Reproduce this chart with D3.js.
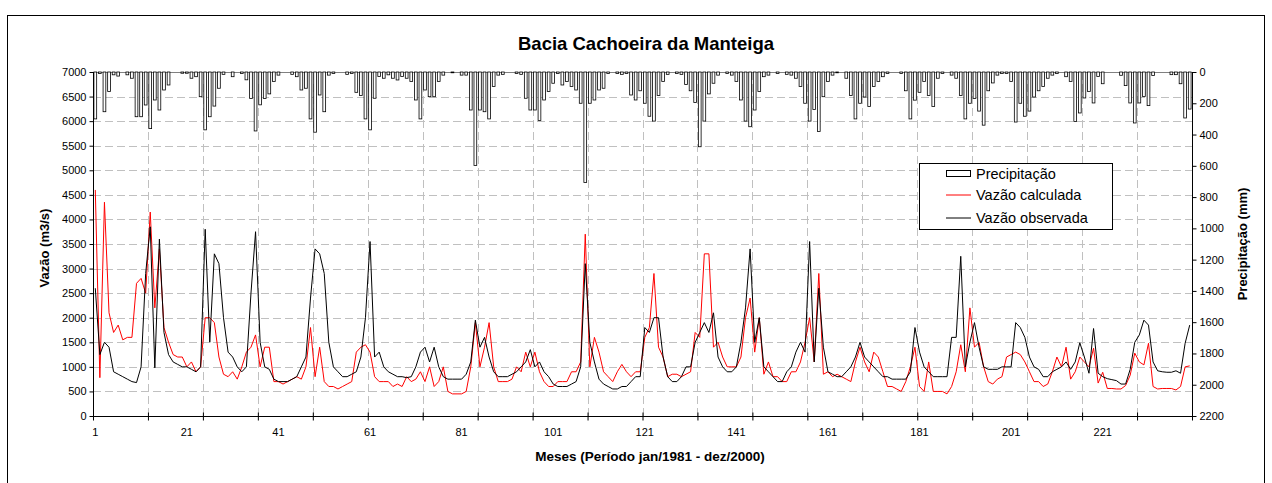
<!DOCTYPE html>
<html>
<head>
<meta charset="utf-8">
<script src="https://cdn.jsdelivr.net/npm/d3@7/dist/d3.min.js"></script>
<style>
  html, body { margin: 0; padding: 0; background: #fff; }
  svg { display: block; font-family: "Liberation Sans", Arial, sans-serif; }
</style>
</head>
<body>
<svg id="chart" width="1272" height="483"></svg>
<script>
// ---- Data (months 1..240, jan/1981 - dez/2000) ----
const months = d3.range(1, 241);

// Precipitation (mm), per year Jan..Dec
const precipitacao = [
  300, 10, 254, 125, 18, 26, 0, 18, 40, 286, 286, 211,
  362, 179, 243, 115, 83, 0, 0, 8, 8, 40, 30, 158,
  370, 286, 218, 104, 15, 0, 30, 0, 10, 50, 170, 377,
  210, 170, 140, 60, 20, 0, 0, 15, 30, 115, 104, 300,
  385, 147, 254, 20, 10, 0, 0, 15, 10, 130, 150, 300,
  370, 168, 29, 40, 18, 40, 51, 29, 40, 60, 179, 300,
  115, 158, 158, 60, 20, 0, 5, 0, 20, 20, 243, 598,
  243, 254, 300, 93, 20, 15, 0, 0, 10, 15, 168, 243,
  243, 310, 179, 125, 72, 10, 83, 61, 93, 115, 200, 707,
  200, 179, 115, 104, 10, 0, 10, 15, 10, 147, 179, 120,
  200, 283, 314, 150, 60, 15, 0, 10, 15, 80, 120, 195,
  478, 314, 140, 72, 20, 0, 10, 20, 60, 179, 314, 350,
  243, 125, 30, 20, 0, 10, 0, 15, 20, 40, 93, 200,
  314, 240, 380, 158, 60, 20, 5, 0, 40, 150, 300, 200,
  160, 220, 93, 60, 30, 10, 0, 0, 10, 120, 300, 180,
  130, 60, 150, 220, 40, 10, 0, 20, 40, 150, 300, 200,
  170, 250, 340, 120, 70, 20, 10, 10, 60, 320, 200, 283,
  250, 160, 120, 93, 40, 20, 10, 0, 30, 60, 316, 262,
  166, 124, 198, 28, 75, 0, 0, 0, 21, 87, 198, 326,
  198, 156, 215, 23, 0, 0, 0, 17, 17, 75, 294, 237
];

// Observed flow (m3/s)
const vazaoObservada = [
  2600, 1250, 1500, 1400, 900, 850, 800, 750, 700, 680, 1000, 2900,
  3850, 980, 3600, 1700, 1250, 1100, 1050, 1000, 1000, 950, 900, 1000,
  3800, 1500, 3300, 3100, 2000, 1300, 1200, 1000, 900, 1000, 2500, 3750,
  1500, 1000, 950, 750, 700, 700, 700, 750, 800, 1000, 1200, 2400,
  3400, 3300, 2900, 1500, 1000, 900, 800, 800, 850, 900, 1200, 2000,
  3550, 1200, 1300, 1000, 900, 850, 800, 800, 780, 800, 1000, 1300,
  1400, 1100, 1400, 1000, 800, 750, 750, 750, 750, 850, 1100, 1950,
  1400, 1600, 1200, 900, 800, 800, 800, 850, 900, 1000, 1100, 1350,
  1000, 1100, 900, 800, 650, 600, 600, 600, 650, 700, 1000, 3100,
  1500, 1100, 750, 650, 600, 550, 550, 600, 600, 700, 800, 800,
  1800, 1700, 2000, 2000, 1200, 800, 700, 700, 800, 1000, 1000, 1500,
  1700, 1900, 1700, 2100, 1200, 1000, 900, 900, 1000, 1500, 2200, 3400,
  1500, 2000, 1000, 900, 800, 700, 700, 900, 1000, 1300, 1500, 1300,
  3550, 1100, 2600, 1400, 900, 850, 800, 800, 900, 1000, 1200, 1500,
  1200, 1100, 1000, 900, 800, 800, 750, 750, 750, 750, 900, 1800,
  1300, 1000, 900, 800, 800, 800, 800, 1600, 1600, 3250, 1000, 1500,
  1900, 1400, 1000, 950, 950, 950, 1000, 1000, 1000, 1900, 1800, 1600,
  1200, 1000, 950, 800, 800, 900, 950, 1000, 1100, 950, 1100, 1490,
  1200, 870, 1780, 870, 800, 760, 740, 720, 650, 650, 950, 1500,
  1650, 1950, 1850, 1100, 920, 900, 890, 890, 920, 870, 1480, 1850
];

// Calculated flow (m3/s)
const vazaoCalculada = [
  4600, 780, 4350, 2100, 1700, 1850, 1550, 1600, 1600, 2700, 2800, 2500,
  4150, 2200, 3400, 1800, 1500, 1250, 1200, 1200, 1000, 1100, 900, 1000,
  2000, 2000, 1900, 1200, 850, 800, 900, 750, 1000, 1300, 1400, 1650,
  1000, 1400, 1400, 700, 700, 650, 700, 750, 800, 750, 1000, 1800,
  800, 1400, 700, 600, 600, 550, 600, 650, 700, 1300, 1400, 1450,
  1300, 800, 700, 700, 700, 600, 650, 600, 800, 700, 750, 900,
  700, 1000, 600, 700, 1000, 500, 450, 450, 450, 500, 1000, 1900,
  1000, 1400, 1900, 1000, 700, 700, 700, 750, 1000, 900, 1300, 1000,
  1300, 900, 700, 600, 600, 700, 700, 700, 900, 900, 1100, 3700,
  1000, 1600, 1300, 900, 800, 700, 900, 1050, 900, 800, 900, 900,
  1600, 1800, 2900, 1400, 1200, 800, 850, 850, 800, 850, 900, 1700,
  1600, 3300, 3300, 1400, 1500, 1200, 1000, 1000, 1000, 1200, 2000, 2400,
  1300, 2000, 850, 1100, 800, 800, 700, 700, 900, 900, 1100, 1500,
  2000, 1100, 2900, 850, 900, 800, 850, 800, 750, 700, 1100, 1400,
  1100, 900, 1300, 1200, 900, 600, 600, 550, 500, 700, 1000, 1400,
  600, 500, 1100, 500, 500, 500, 450, 600, 900, 1450, 900, 2200,
  1400, 1500, 1000, 700, 650, 750, 800, 1200, 1250, 1300, 1250, 1100,
  900, 700, 700, 600, 650, 900, 1200, 1000, 1400, 750, 900, 1200,
  1100, 1000, 1380, 670, 890, 560, 560, 550, 550, 620, 830, 1280,
  1100, 1040, 1480, 600, 550, 560, 560, 560, 530, 600, 1000, 1020
];

const xLabels = [1, 21, 41, 61, 81, 101, 121, 141, 161, 181, 201, 221];
const leftTicks = d3.range(0, 7001, 500);
const rightTicks = d3.range(0, 2201, 200);

const titleText = "Bacia Cachoeira da Manteiga";
const xTitle = "Meses (Período jan/1981 - dez/2000)";
const yLeftTitle = "Vazão (m3/s)";
const yRightTitle = "Precipitação (mm)";
const legendItems = ["Precipitação", "Vazão calculada", "Vazão observada"];

// ---- Layout ----
const L = 93, R = 1192, T = 72, B = 416;
const svg = d3.select("#chart");

svg.append("rect").attr("x", 0).attr("y", 0).attr("width", 1272).attr("height", 483).attr("fill", "#fff");
// outer frame
svg.append("rect").attr("x", 7.5).attr("y", 15.5).attr("width", 1257).attr("height", 480)
  .attr("fill", "none").attr("stroke", "#000").attr("stroke-width", 1);

const xBand = d3.scaleBand().domain(months).range([L, R]).padding(0);
const xLin = d3.scaleLinear().domain([0, 240]).range([L, R]);
const yL = d3.scaleLinear().domain([0, 7000]).range([B, T]);
const yR = d3.scaleLinear().domain([0, 2200]).range([T, B]);
const bw = xBand.bandwidth();
const cx = m => xBand(m) + bw / 2;

// gridlines
const grid = svg.append("g");
grid.selectAll("line.h").data(leftTicks.filter(v => v > 0 && v < 7000)).enter().append("line")
  .attr("x1", L).attr("x2", R).attr("y1", d => Math.round(yL(d)) + 0.5).attr("y2", d => Math.round(yL(d)) + 0.5)
  .attr("stroke", "#c0c0c0").attr("stroke-width", 1).attr("stroke-dasharray", "8,4");
grid.selectAll("line.v").data(d3.range(12, 240, 12)).enter().append("line")
  .attr("y1", T).attr("y2", B).attr("x1", d => Math.round(xLin(d)) + 0.5).attr("x2", d => Math.round(xLin(d)) + 0.5)
  .attr("stroke", "#c0c0c0").attr("stroke-width", 1).attr("stroke-dasharray", "8,4");

// top line
svg.append("line").attr("x1", L).attr("x2", R).attr("y1", T + 0.5).attr("y2", T + 0.5)
  .attr("stroke", "#808080").attr("stroke-width", 1);

// precipitation bars (hanging from top)
svg.append("g").selectAll("rect").data(months).enter().append("rect")
  .attr("x", m => xBand(m) + bw * 0.2)
  .attr("y", T)
  .attr("width", bw * 0.6)
  .attr("height", (m, i) => yR(precipitacao[i]) - T)
  .attr("fill", "#fff").attr("stroke", "#000").attr("stroke-width", 0.8);

// lines
const lineGen = arr => d3.line().x((d, i) => cx(months[i])).y(d => yL(d))(arr);
svg.append("path").attr("d", lineGen(vazaoCalculada)).attr("fill", "none")
  .attr("stroke", "#ff0000").attr("stroke-width", 1);
svg.append("path").attr("d", lineGen(vazaoObservada)).attr("fill", "none")
  .attr("stroke", "#000").attr("stroke-width", 1);

// axes
const axL = svg.append("g").attr("transform", `translate(${L + 0.5},0)`)
  .call(d3.axisLeft(yL).tickValues(leftTicks).tickSize(4).tickPadding(3).tickFormat(d3.format("d")));
const axR = svg.append("g").attr("transform", `translate(${R + 0.5},0)`)
  .call(d3.axisRight(yR).tickValues(rightTicks).tickSize(4).tickPadding(3).tickFormat(d3.format("d")));
const axB = svg.append("g").attr("transform", `translate(0,${B + 0.5})`)
  .call(d3.axisBottom(xBand).tickValues(xLabels).tickSize(0).tickPadding(12));
// cross tick marks every 12 months
const axT = svg.append("g").attr("transform", `translate(0,${B + 0.5})`)
  .call(d3.axisBottom(xLin).tickValues(d3.range(0, 241, 12)).tickSize(4).tickFormat(""));
axT.selectAll(".tick line").attr("y1", -4).attr("y2", 4);
axT.select(".domain").remove();

[axL, axR, axB].forEach(a => {
  a.selectAll("text").attr("font-size", "11px").attr("fill", "#000")
    .attr("font-family", "Liberation Sans, Arial, sans-serif");
  a.select(".domain").attr("stroke", "#000");
});
axB.select(".domain").attr("d", `M${L},0H${R}`);
axL.select(".domain").attr("d", `M0,${T}V${B}`);
axR.select(".domain").attr("d", `M0,${T}V${B}`);

// titles
svg.append("text").attr("x", 646).attr("y", 50).attr("text-anchor", "middle")
  .attr("font-size", "18.5px").attr("font-weight", "bold").text(titleText);
svg.append("text").attr("x", 650).attr("y", 461).attr("text-anchor", "middle")
  .attr("font-size", "13.5px").attr("font-weight", "bold").text(xTitle);
svg.append("text").attr("transform", `translate(49,${(T + B) / 2 + 4}) rotate(-90)`).attr("text-anchor", "middle")
  .attr("font-size", "13px").attr("font-weight", "bold").text(yLeftTitle);
svg.append("text").attr("transform", `translate(1247,${(T + B) / 2}) rotate(-90)`).attr("text-anchor", "middle")
  .attr("font-size", "13px").attr("font-weight", "bold").text(yRightTitle);

// legend
const lg = svg.append("g");
lg.append("rect").attr("x", 919.5).attr("y", 163.5).attr("width", 193).attr("height", 66)
  .attr("fill", "#fff").attr("stroke", "#000").attr("stroke-width", 1);
const rowsY = [173.5, 195, 218];
lg.append("rect").attr("x", 946.5).attr("y", rowsY[0] - 3).attr("width", 24).attr("height", 6)
  .attr("fill", "#fff").attr("stroke", "#000");
lg.append("line").attr("x1", 946).attr("x2", 971).attr("y1", rowsY[1]).attr("y2", rowsY[1])
  .attr("stroke", "#ff0000").attr("stroke-width", 1);
lg.append("line").attr("x1", 946).attr("x2", 971).attr("y1", rowsY[2]).attr("y2", rowsY[2])
  .attr("stroke", "#000").attr("stroke-width", 1);
lg.selectAll("text").data(legendItems).enter().append("text")
  .attr("x", 976).attr("y", (d, i) => rowsY[i] + 5)
  .attr("font-size", "14.5px").text(d => d);
</script>
</body>
</html>
